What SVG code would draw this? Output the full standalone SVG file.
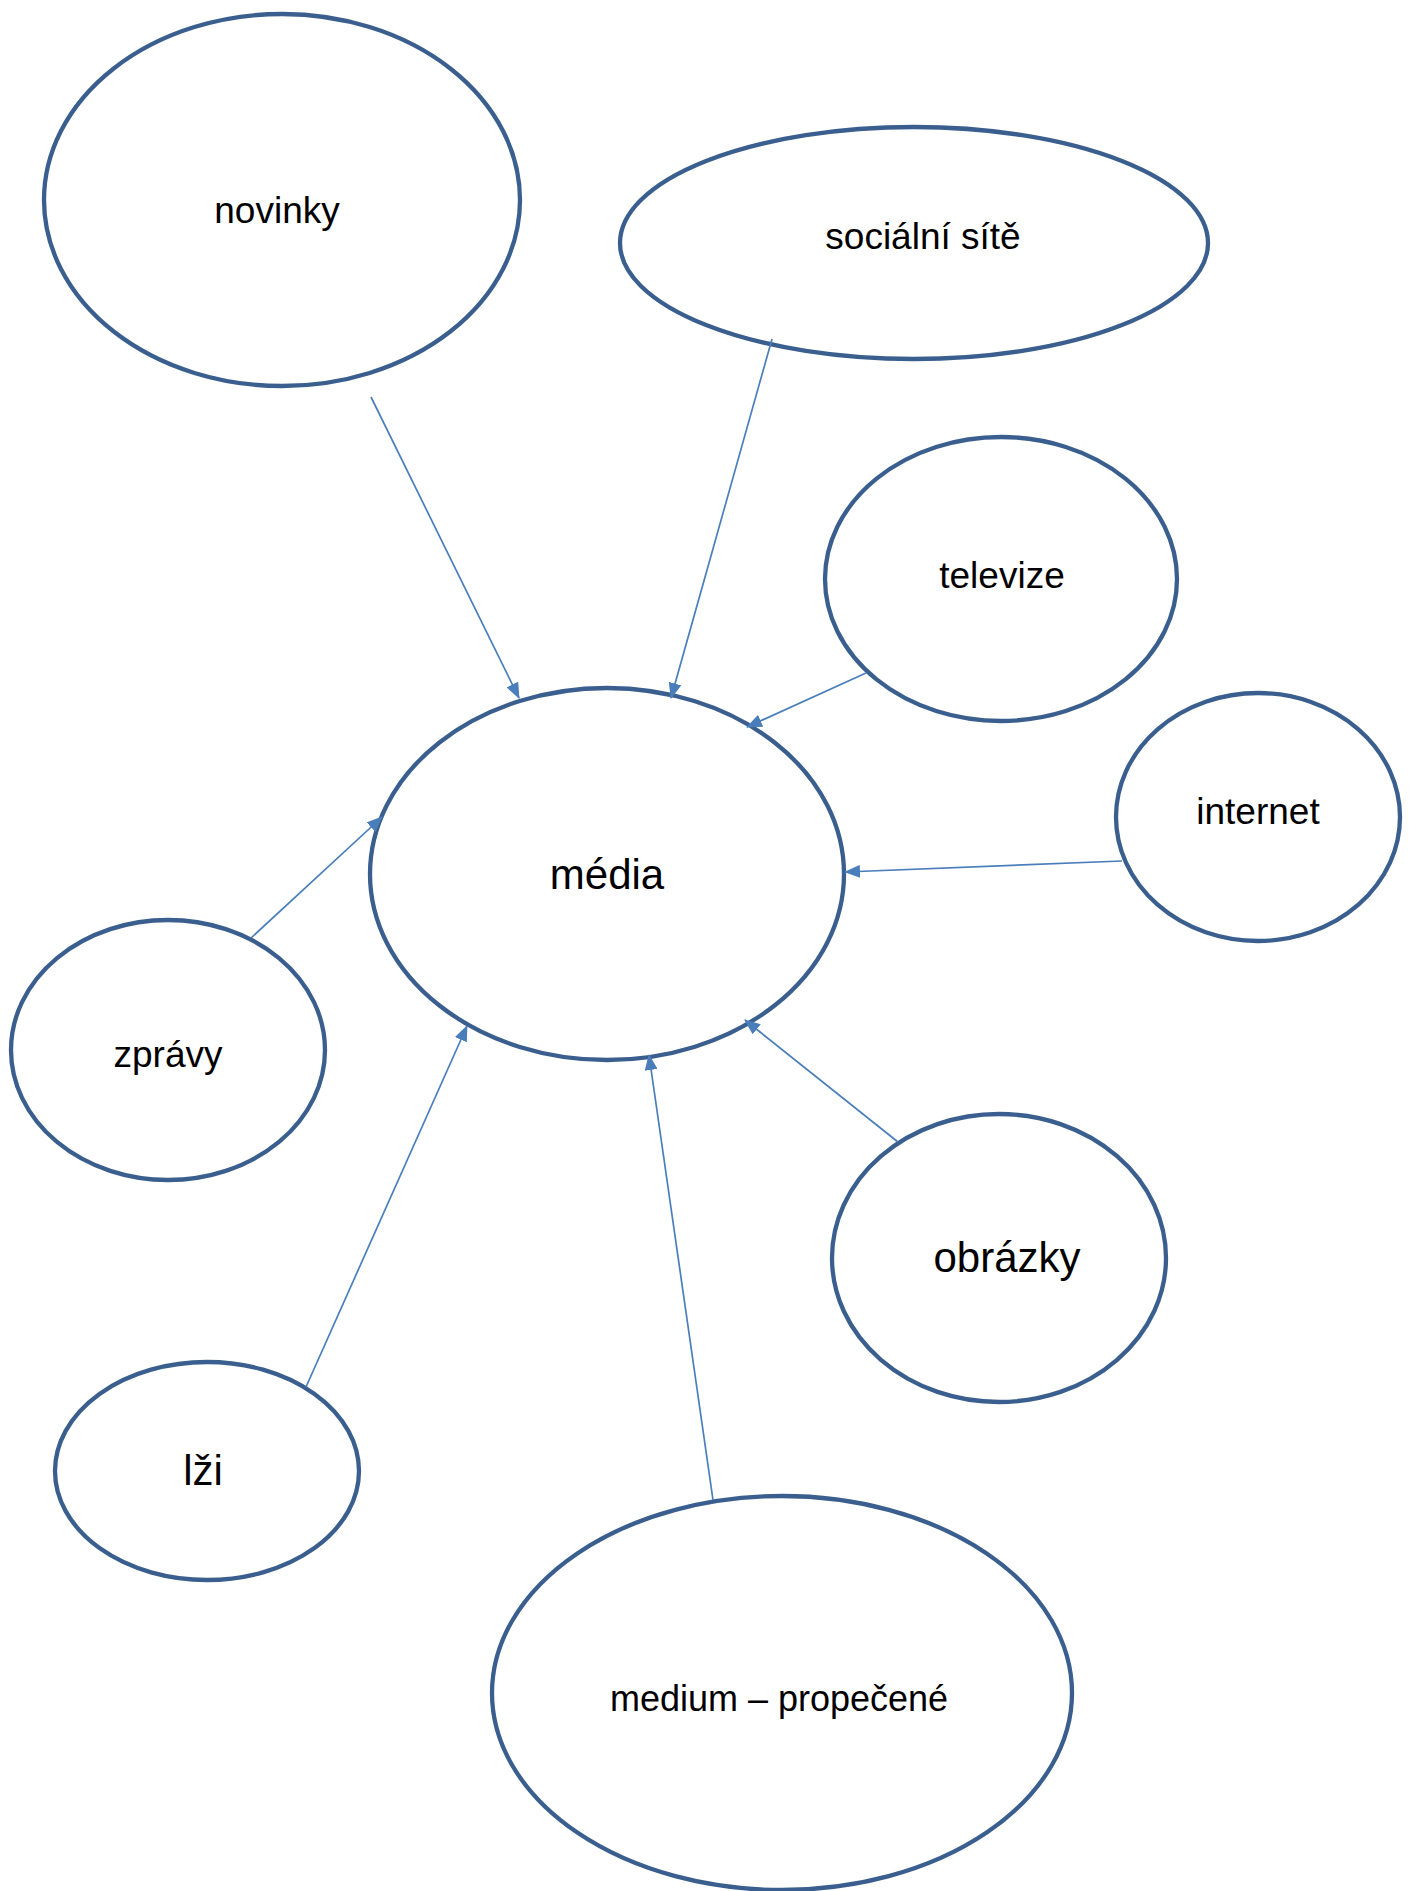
<svg xmlns="http://www.w3.org/2000/svg" width="1411" height="1891" viewBox="0 0 1411 1891">
<style>
.node ellipse{fill:#ffffff;stroke:#3a5f8f;stroke-width:4.3}
.node text{font-family:"Liberation Sans",Arial,sans-serif;font-size:37px;fill:#000000;text-anchor:middle}
.node text.big{font-size:42px}
.conn line{stroke:#4a7ebb;stroke-width:1.7;fill:none}
</style>
<defs>
<marker id="arr" markerUnits="userSpaceOnUse" markerWidth="16" markerHeight="13" refX="15" refY="6.5" orient="auto">
<path d="M0,0 L16,6.5 L0,13 z" fill="#4a7ebb"/>
</marker>
</defs>
<rect width="1411" height="1891" fill="#ffffff"/>
<g id="novinky" class="node"><ellipse cx="282" cy="200" rx="238" ry="186"/><text x="277" y="223">novinky</text></g>
<g id="socialni-site" class="node"><ellipse cx="914" cy="243" rx="294" ry="116"/><text x="923" y="249">sociální sítě</text></g>
<g id="televize" class="node"><ellipse cx="1001" cy="579" rx="176" ry="142"/><text x="1002" y="588">televize</text></g>
<g id="internet" class="node"><ellipse cx="1258" cy="817" rx="142" ry="124"/><text x="1258" y="824">internet</text></g>
<g id="media" class="node"><ellipse cx="607" cy="874" rx="237" ry="186"/><text class="big" x="607" y="889">média</text></g>
<g id="zpravy" class="node"><ellipse cx="168" cy="1050" rx="157" ry="130"/><text x="168" y="1067">zprávy</text></g>
<g id="obrazky" class="node"><ellipse cx="999" cy="1258" rx="167" ry="144"/><text class="big" x="1007" y="1272">obrázky</text></g>
<g id="lzi" class="node"><ellipse cx="207" cy="1471" rx="152" ry="109"/><text class="big" x="203" y="1485">lži</text></g>
<g id="medium" class="node"><ellipse cx="782" cy="1693" rx="290" ry="197"/><text x="779" y="1711" style="font-size:36px">medium – propečené</text></g>
<g id="connectors" class="conn">
<line x1="371" y1="397" x2="519" y2="698" marker-end="url(#arr)"/>
<line x1="772" y1="339" x2="671" y2="698" marker-end="url(#arr)"/>
<line x1="866" y1="673" x2="747" y2="727" marker-end="url(#arr)"/>
<line x1="1122" y1="861" x2="845" y2="872" marker-end="url(#arr)"/>
<line x1="251" y1="938" x2="382" y2="817" marker-end="url(#arr)"/>
<line x1="306" y1="1387" x2="467" y2="1026" marker-end="url(#arr)"/>
<line x1="713" y1="1500" x2="649" y2="1055" marker-end="url(#arr)"/>
<line x1="898" y1="1142" x2="745" y2="1020" marker-end="url(#arr)"/>
</g>
</svg>
